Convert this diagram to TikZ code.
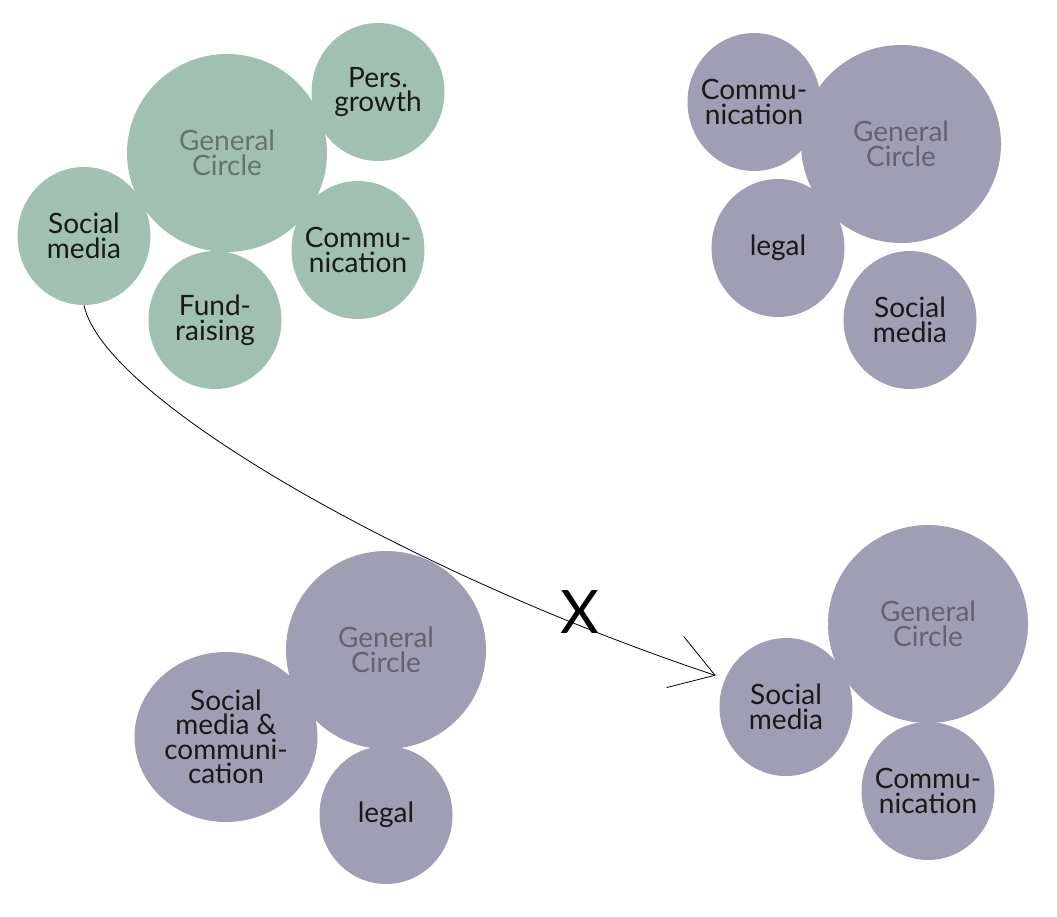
\documentclass[tikz,border=0pt]{standalone}
\usepackage{fontspec}
\setmainfont{Lato}
\usetikzlibrary{shapes.geometric, arrows.meta, positioning}
\definecolor{sage}{RGB}{160,192,177}
\definecolor{lilac}{RGB}{160,158,180}

\begin{document}
\begin{tikzpicture}[x=1pt, y=-1pt,
    circ/.style={ellipse, fill=sage, minimum width=133pt, minimum height=138pt, inner sep=-30pt, align=center, text=black!90, font=\fontsize{28}{24.5}\selectfont},
    general/.style={circ, minimum width=200pt, minimum height=198pt, text opacity=0.45},
    arrow/.style={-{Straight Barb[length=42pt, width=54pt]}, line width=0.8pt, black}
]
\useasboundingbox (0,0) rectangle (1057,917);

% first team
\node[general] (gen1) at (227,153) {General\\Circle};
\node[circ] (pers1) at (378,92) {Pers.\\growth};
\node[circ] (social1) at (84,236) {Social\\media};
\node[circ] (fund1) at (215,320) {Fund-\\raising};
\node[circ] (comm1) at (358,250) {Commu-\\nication};

% second team
\node[general, fill=lilac] (gen2) at (901,144) {General\\Circle};
\node[circ, fill=lilac] (comm2) at (754,102) {Commu-\\nication};
\node[circ, fill=lilac] (legal2) at (778,248) {legal};
\node[circ, fill=lilac] (social2) at (910,320) {Social\\media};

% third team
\node[general, fill=lilac] (gen3) at (386,650) {General\\Circle};
\node[circ, fill=lilac, minimum width=183pt, minimum height=170pt] (smc3) at (226,737) {Social\\media \&\\communi-\\cation};
\node[circ, fill=lilac] (legal3) at (386,815) {legal};

% fourth team
\node[general, fill=lilac] (gen4) at (928,624) {General\\Circle};
\node[circ, fill=lilac] (social4) at (786,707) {Social\\media};
\node[circ, fill=lilac] (comm4) at (928,791) {Commu-\\nication};

\node[font=\fontsize{60}{60}\selectfont] (cross) at (580,612) {X};
\draw[arrow, shorten >=10pt] (social1.south) .. controls +(20,95) and +(-310,-103) .. (social4.155);
\end{tikzpicture}
\end{document}
